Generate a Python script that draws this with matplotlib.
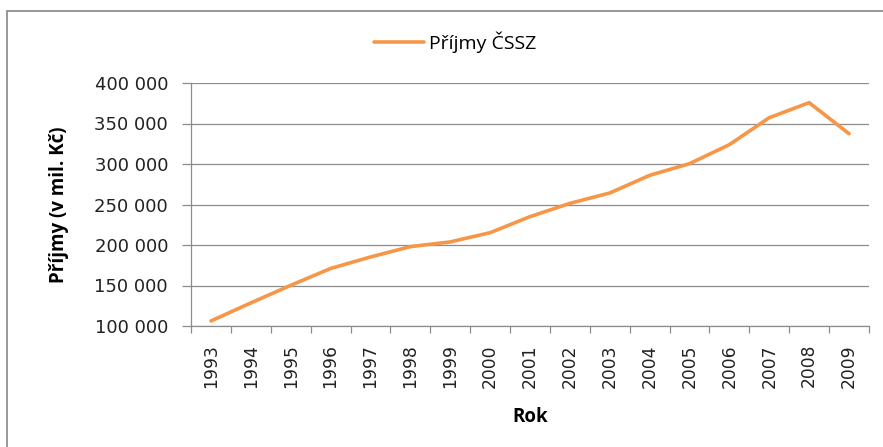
import matplotlib
matplotlib.use("Agg")
import matplotlib.pyplot as plt
from matplotlib.patches import Rectangle
from matplotlib.ticker import FuncFormatter, MultipleLocator, FixedLocator

years = ["1993", "1994", "1995", "1996", "1997", "1998", "1999", "2000", "2001",
         "2002", "2003", "2004", "2005", "2006", "2007", "2008", "2009"]
prijmy = [106200, 128500, 150200, 171000, 185200, 198000, 203800, 215200, 235000,
          251400, 264200, 286000, 300400, 323900, 357200, 375700, 337400]

fig = plt.figure(figsize=(8.83, 4.47), dpi=100)
fig.patches.append(Rectangle((7.5/883, -0.05), 1.2, 1 - 11/447 + 0.05, transform=fig.transFigure,
                             fill=False, edgecolor="#8f8f8f", linewidth=1.3))

ax = fig.add_axes([191/883, 1 - 326/447, (869 - 191)/883, (326 - 83)/447])
x = list(range(len(years)))
ax.plot(x, prijmy, color="#F79646", linewidth=2.6, label="Příjmy ČSSZ", solid_capstyle="round")

ax.set_xlim(-0.5, len(years) - 0.5)
ax.set_ylim(100000, 400000)
ax.yaxis.set_major_locator(MultipleLocator(50000))
ax.yaxis.set_major_formatter(FuncFormatter(lambda v, p: f"{int(v):,}".replace(",", " ")))
ax.grid(axis="y", color="#8c8c8c", linewidth=0.9)
ax.set_axisbelow(True)

ax.set_xticks(x)
ax.set_xticklabels(years, rotation=90, fontsize=12.3, family="DejaVu Sans", color="#222222")
ax.xaxis.set_minor_locator(FixedLocator([i - 0.5 for i in range(len(years) + 1)]))
ax.tick_params(axis="x", which="major", length=0, pad=13)
ax.tick_params(axis="x", which="minor", length=5, color="#8c8c8c", width=0.9)
ax.tick_params(axis="y", length=6.5, color="#8c8c8c", width=0.9, labelsize=13, pad=10,
               labelcolor="#222222")

for s in ["top", "right"]:
    ax.spines[s].set_visible(False)
for s in ["left", "bottom"]:
    ax.spines[s].set_color("#8c8c8c")
    ax.spines[s].set_linewidth(0.9)

ax.set_ylabel("Příjmy (v mil. Kč)", fontsize=13.5, fontweight="bold", family="Open Sans",
              labelpad=18)
ax.set_xlabel("Rok", fontsize=13.5, fontweight="bold", family="Open Sans", labelpad=14)

leg = fig.legend(loc="center", bbox_to_anchor=(455/883, 1 - 42/447), frameon=False,
                 prop={"family": "Open Sans", "size": 14}, handlelength=2.6, handletextpad=0.25)

fig.savefig("out.png", dpi=100)
